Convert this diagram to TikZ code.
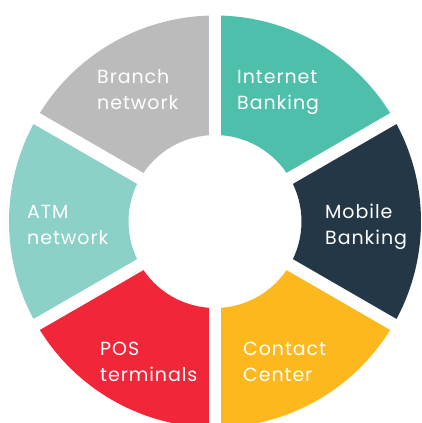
\documentclass[tikz,border=0pt]{standalone}
\usepackage{fontspec}
\setmainfont[LetterSpace=5]{Poppins}
\definecolor{cgray}{RGB}{187,187,187}
\definecolor{cteal}{RGB}{78,191,170}
\definecolor{cnavy}{RGB}{36,55,71}
\definecolor{clteal}{RGB}{139,209,200}
\definecolor{cred}{RGB}{242,38,57}
\definecolor{cyellow}{RGB}{253,184,30}
\begin{document}
\begin{tikzpicture}[x=1pt,y=1pt,
  lbl/.style={text=white,font=\fontsize{19}{26}\selectfont,align=left,anchor=base west,inner sep=0pt},
  sep/.style={white,line width=12.5pt}]
\def\Ro{206}
\def\Ri{86.5}
\useasboundingbox (-215,-201.5) rectangle (206,221.5);
\clip (-215,-201.5) rectangle (206,221.5);
\newcommand{\seg}[3]{\fill[#1] (#2:\Ro) arc[start angle=#2,end angle=#3,radius=\Ro] -- (#3:\Ri) arc[start angle=#3,end angle=#2,radius=\Ri] -- cycle;}
\seg{cteal}{30}{90}
\seg{cgray}{90}{150}
\seg{clteal}{150}{210}
\seg{cred}{210}{270}
\seg{cyellow}{270}{330}
\seg{cnavy}{330}{390}
\coordinate (c) at (0,0);
\foreach \a [count=\i] in {30,90,150,210,270,330}{
  \coordinate (s\i) at (\a:\Ro+10);
  \draw[sep] (c) -- (s\i);
}
\node[lbl] (branch) at (-118,112.2) {Branch\\network};
\node[lbl] (internet) at (22,112.2) {Internet\\Banking};
\node[lbl] (mobile) at (110,-22.8) {Mobile\\Banking};
\node[lbl] (atm) at (-188,-22.8) {ATM\\network};
\node[lbl] (pos) at (-115,-159.5) {POS\\terminals};
\node[lbl] (contact) at (28,-159.5) {Contact\\Center};
\end{tikzpicture}
\end{document}
